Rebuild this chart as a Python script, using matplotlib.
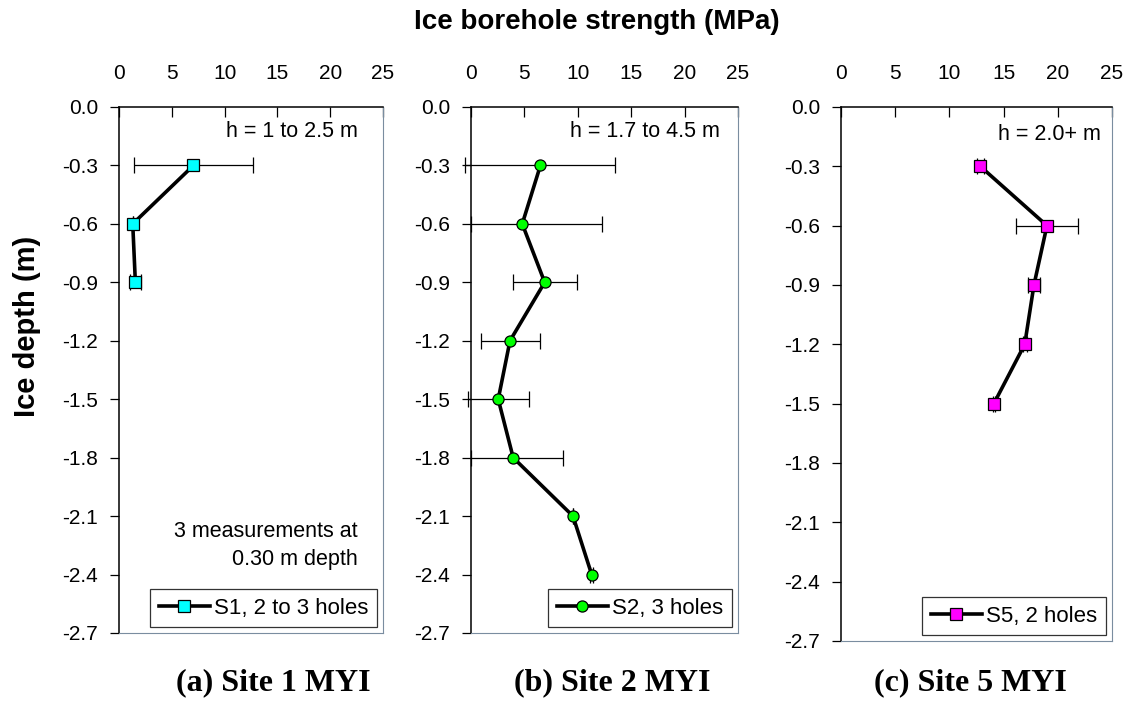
import numpy as np
import matplotlib.pyplot as plt

plt.rcParams['font.family'] = ['Liberation Sans', 'DejaVu Sans']

# site 1
depth1 = [-0.3, -0.6, -0.9]
s1 = [7.05, 1.3, 1.55]
s1_lo = [5.6, 0.0, 0.5]
s1_hi = [5.6, 0.0, 0.55]

# site 2
depth2 = [-0.3, -0.6, -0.9, -1.2, -1.5, -1.8, -2.1, -2.4]
s2 = [6.5, 4.8, 6.9, 3.65, 2.55, 3.95, 9.55, 11.3]
s2_lo = [7.1, 4.8, 3.0, 2.7, 2.8, 3.95, 0.0, 0.15]
s2_hi = [7.0, 7.5, 3.0, 2.85, 2.85, 4.7, 0.0, 0.15]

# site 5
depth5 = [-0.3, -0.6, -0.9, -1.2, -1.5]
s5 = [12.85, 19.0, 17.8, 16.95, 14.1]
s5_lo = [0.3, 2.9, 0.55, 0.2, 0.1]
s5_hi = [0.3, 2.9, 0.55, 0.2, 0.1]

yticks = [0.0, -0.3, -0.6, -0.9, -1.2, -1.5, -1.8, -2.1, -2.4, -2.7]
xticks = [0, 5, 10, 15, 20, 25]

W, H = 1128, 707
fig = plt.figure(figsize=(W / 100, H / 100), dpi=100)

def px_axes(x0, y0, x1, y1):
    return fig.add_axes([x0 / W, 1 - y1 / H, (x1 - x0) / W, (y1 - y0) / H])

panels = [
    (px_axes(119, 107, 383, 633), depth1, s1, s1_lo, s1_hi, 's', '#00FFFF',
     'S1, 2 to 3 holes', 'h = 1 to 2.5 m', (22.6, -0.128), '(a) Site 1 MYI', 273),
    (px_axes(471, 107, 738, 633), depth2, s2, s2_lo, s2_hi, 'o', '#00FF00',
     'S2, 3 holes', 'h = 1.7 to 4.5 m', (23.3, -0.128), '(b) Site 2 MYI', 612),
    (px_axes(841, 107, 1112, 641), depth5, s5, s5_lo, s5_hi, 's', '#FF00FF',
     'S5, 2 holes', 'h = 2.0+ m', (24.0, -0.137), '(c) Site 5 MYI', 970),
]

for ax, d, s, lo, hi, mk, col, lab, htxt, hpos, title, tx in panels:
    ax.errorbar(s, d, xerr=[lo, hi], fmt='none', ecolor='black',
                elinewidth=0.9, capsize=5.5, capthick=0.9, clip_on=False, zorder=2)
    ax.plot(s, d, '-', color='black', lw=2.6, marker=mk, markersize=8,
            markerfacecolor=col, markeredgecolor='black', markeredgewidth=0.9,
            label=lab, zorder=3)
    ax.set_xlim(0, 25)
    ax.set_ylim(-2.7, 0)
    ax.set_xticks(xticks)
    ax.set_yticks(yticks)
    ax.set_yticklabels([f'{t:.1f}' for t in yticks])
    ax.xaxis.tick_top()
    ax.tick_params(axis='x', direction='in', length=7, width=0.9, labelsize=15, pad=17)
    ax.tick_params(axis='y', direction='out', length=6.5, width=0.9, labelsize=15, pad=8.5)
    for side in ['left', 'top']:
        ax.spines[side].set_linewidth(1.1)
        ax.spines[side].set_color('black')
    for side in ['right', 'bottom']:
        ax.spines[side].set_linewidth(0.8)
        ax.spines[side].set_color('#7a8da0')
    ax.text(hpos[0], hpos[1], htxt, ha='right', va='center', fontsize=15.5)
    leg = ax.legend(loc='lower right', fontsize=16, frameon=True, fancybox=False,
                    edgecolor='black', borderaxespad=0.25, handlelength=2.3,
                    handletextpad=0.2, borderpad=0.4)
    leg.get_frame().set_linewidth(0.9)
    fig.text(tx / W, 1 - 683 / H, title, ha='center', va='center',
             fontsize=23, fontweight='bold', family='Liberation Serif')

panels[0][0].text(22.6, -2.25, '3 measurements at\n0.30 m depth', ha='right',
                  va='center', fontsize=15.5, linespacing=1.45)

fig.text(597 / W, 1 - 22 / H, 'Ice borehole strength (MPa)', ha='center', va='center',
         fontsize=20, fontweight='bold')
fig.text(27 / W, 1 - 326 / H, 'Ice depth (m)', ha='center', va='center',
         rotation=90, fontsize=21, fontweight='bold')

fig.savefig('out.png', dpi=100)
